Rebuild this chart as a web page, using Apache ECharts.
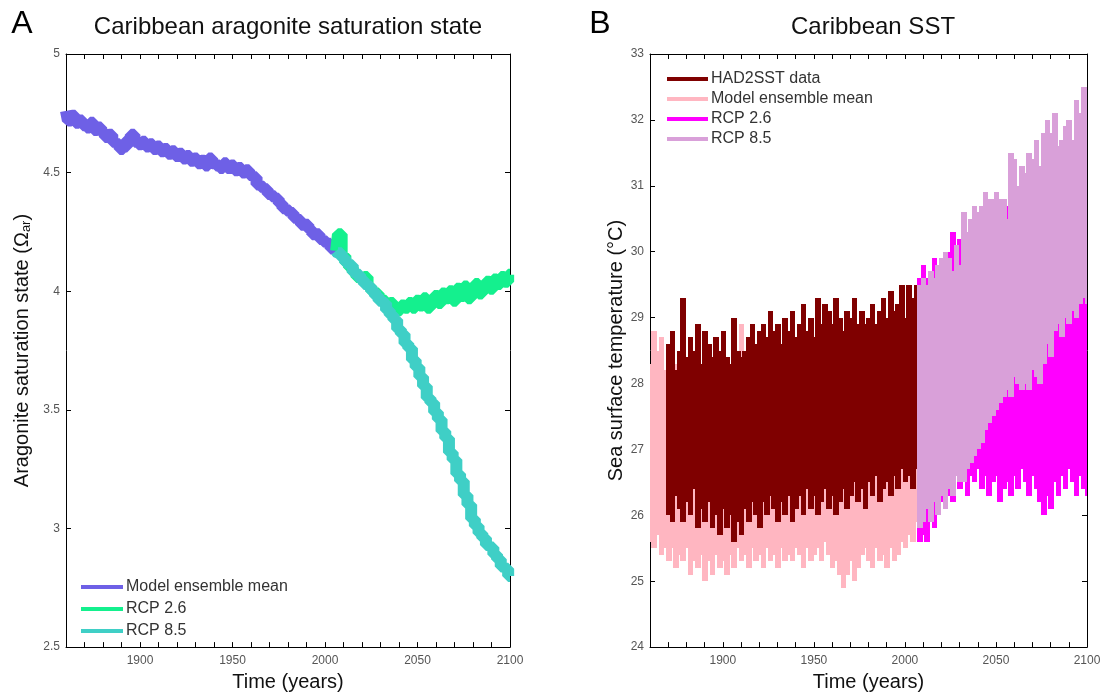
<!DOCTYPE html>
<html>
<head>
<meta charset="utf-8">
<script src="https://cdn.jsdelivr.net/npm/echarts@6/dist/echarts.min.js"></script>
<style>
html,body{margin:0;padding:0;background:#fff;}
#chart{width:1111px;height:697px;}
</style>
</head>
<body>
<div id="chart"></div>
<script>
// ---------- Panel A: aragonite saturation state (2-year steps) ----------
const meanStartA = 1860; // 1860..2006
const meanA = [4.76,4.72,4.74,4.71,4.72,4.70,4.69,4.71,4.68,4.69,4.67,4.65,4.66,4.63,4.62,4.60,4.61,4.64,4.66,4.63,
  4.62,4.63,4.61,4.62,4.60,4.61,4.59,4.60,4.58,4.59,4.57,4.58,4.56,4.57,4.55,4.56,4.54,4.55,4.53,4.56,
  4.54,4.53,4.52,4.54,4.52,4.53,4.51,4.52,4.50,4.51,4.49,4.48,4.45,4.44,4.43,4.41,4.40,4.39,4.37,4.35,
  4.34,4.33,4.31,4.30,4.28,4.28,4.26,4.24,4.24,4.22,4.21,4.20,4.18,4.17];
const rcpStartA = 2006; // 2006..2100
const rcp26A = [4.17,4.24,4.15,4.12,4.10,4.08,4.06,4.05,4.06,4.02,4.00,3.99,3.97,3.96,3.94,3.95,3.93,3.92,3.94,3.93,
  3.95,3.93,3.96,3.94,3.97,3.93,3.96,3.98,3.95,3.99,3.97,4.00,3.96,4.01,3.98,4.02,3.97,4.01,4.03,3.99,
  4.02,4.04,4.01,4.05,4.03,4.06,4.04,4.07];
const rcp85A = [4.17,4.16,4.14,4.12,4.11,4.08,4.07,4.05,4.03,4.02,4.00,3.98,3.96,3.95,3.92,3.90,3.88,3.84,3.82,3.78,
  3.76,3.71,3.68,3.64,3.60,3.55,3.53,3.49,3.46,3.41,3.38,3.32,3.29,3.23,3.20,3.14,3.10,3.04,3.01,2.98,
  2.96,2.93,2.92,2.89,2.87,2.84,2.83,2.80];

// ---------- Panel B: SST bands (min/max of seasonal cycle, 2-year steps) ----------
const pinkStart = 1860; // model ensemble mean 1860..2006
const pinkLo = [25.6,25.5,25.7,25.4,25.5,25.3,25.5,25.2,25.4,25.3,25.5,25.1,25.3,25.2,25.4,25.0,25.3,25.1,25.4,25.2,
  25.3,25.1,25.4,25.2,25.5,25.3,25.4,25.2,25.5,25.3,25.4,25.2,25.5,25.3,25.4,25.2,25.5,25.3,25.4,25.3,
  25.5,25.4,25.2,25.5,25.3,25.4,25.5,25.3,25.6,25.4,25.2,25.3,25.1,24.9,25.1,25.3,25.0,25.2,25.4,25.5,
  25.3,25.2,25.5,25.3,25.4,25.2,25.5,25.3,25.4,25.6,25.5,25.7,25.6,25.9];
const pinkHi = [28.3,28.8,28.5,28.7,28.2,28.4,28.1,28.3,28.0,28.2,28.1,28.2,28.0,28.3,28.1,28.2,28.0,28.1,28.3,28.0,
  28.2,28.1,28.0,28.3,28.2,28.9,28.1,28.2,28.0,28.3,28.2,28.4,28.1,28.3,28.2,28.4,28.2,28.3,28.1,28.4,
  28.3,28.5,28.2,28.4,28.3,28.5,28.3,28.4,28.6,28.3,28.5,28.4,28.6,28.3,28.5,28.4,28.6,28.5,28.3,28.6,
  28.5,28.7,28.4,28.6,28.5,28.7,28.6,28.8,28.5,28.7,28.8,28.6,28.9,28.7];
const hadStart = 1870; // HAD2SST data 1870..2008
const hadLo = [26.0,25.9,26.3,26.1,25.9,26.2,26.0,26.4,25.8,26.1,25.9,26.2,25.8,26.0,25.7,26.1,25.8,26.0,25.6,25.9,
  25.7,26.1,25.9,26.2,26.0,25.8,26.2,26.0,26.3,26.1,25.9,26.2,26.0,26.3,25.9,26.1,26.3,26.0,26.4,26.1,
  26.3,26.0,26.2,26.4,26.1,26.3,26.0,26.2,26.4,26.1,26.3,26.5,26.2,26.4,26.1,26.5,26.3,26.6,26.2,26.4,
  26.5,26.3,26.6,26.4,26.7,26.5,26.6,26.4,26.7,26.5];
const hadHi = [28.6,28.8,28.2,28.5,29.3,28.4,28.7,28.5,28.9,28.3,28.8,28.6,28.4,28.7,28.5,28.8,28.4,28.3,29.0,28.5,
  28.4,28.5,28.7,28.9,28.6,28.8,28.9,28.7,29.1,28.8,28.9,28.6,29.0,28.8,29.1,28.7,28.9,29.2,28.8,29.0,
  28.7,29.3,28.9,29.2,29.1,28.9,29.3,29.0,28.8,29.1,29.0,29.3,28.9,29.1,28.9,29.0,29.2,28.9,29.1,29.3,
  29.0,29.4,29.1,29.2,29.5,29.0,29.5,29.3,29.5,29.4];
const rcpStartB = 2008; // 2008..2100
const rcp26Lo = [25.6,25.7,25.6,25.9,25.8,26.0,26.2,26.1,26.3,26.2,26.6,26.4,26.5,26.3,26.6,26.5,26.7,26.4,26.6,26.3,
  26.5,26.6,26.2,26.4,26.5,26.3,26.6,26.4,26.7,26.5,26.3,26.6,26.4,26.2,26.0,26.3,26.1,26.5,26.3,26.6,
  26.4,26.7,26.5,26.3,26.6,26.4,26.3];
const rcp26Hi = [29.6,29.8,29.6,29.7,29.9,29.8,29.6,29.9,30.0,30.3,30.1,30.2,30.0,30.3,30.1,30.4,30.2,30.3,30.2,30.5,
  30.3,30.4,30.6,30.4,30.7,30.3,30.5,30.4,30.6,30.5,30.7,30.6,30.8,30.6,30.9,30.7,30.9,30.8,31.0,30.8,
  31.0,30.9,31.1,30.9,31.0,31.1,31.0];
const rcp85Lo = [25.8,25.9,26.1,25.9,26.2,26.0,26.3,26.1,26.4,26.3,26.6,26.5,26.5,26.7,26.8,26.9,27.0,27.1,27.3,27.4,
  27.5,27.6,27.7,27.8,27.9,27.8,28.1,28.0,27.9,28.0,27.9,28.2,28.1,28.0,28.3,28.6,28.4,28.8,28.9,28.7,
  29.0,28.9,29.1,29.0,29.2,29.3,29.2];
const rcp85Hi = [29.5,29.6,29.5,29.7,29.6,29.8,29.9,30.0,29.9,29.7,30.1,29.8,30.6,30.3,30.5,30.7,30.6,30.7,30.9,30.8,
  30.8,30.9,30.8,30.8,30.5,31.5,31.4,31.0,31.3,31.2,31.5,31.4,31.7,31.3,31.8,32.0,31.8,32.1,31.6,31.7,
  31.9,32.0,31.7,32.3,32.1,32.5,32.4];

const yTicksA = ['2.5','3','3.5','4','4.5','5'];
const yTicksB = ['24','25','26','27','28','29','30','31','32','33'];
const xTickLabels = ['1900','1950','2000','2050','2100'];

// ---------- helpers ----------
const FONT = 'Liberation Sans, Arial, Helvetica, sans-serif';
const STEP = 2;
function linePts(start, vals){ return vals.map((v,i)=>[start + i*STEP, v]); }
function bandPts(start, lo, hi){ return lo.map((v,i)=>[start + i*STEP, v, hi[i]]); }
function bandRender(params, api){
  const x = api.value(0), lo = api.value(1), hi = api.value(2);
  const p1 = api.coord([x - STEP/2, hi]);
  const p2 = api.coord([x + STEP/2, lo]);
  const cs = params.coordSys;
  const x0 = Math.floor(p1[0]);
  const x1 = Math.ceil(p2[0]) + 1;
  const y0 = Math.round(p1[1]);
  const y1 = Math.round(p2[1]);
  const shape = echarts.graphic.clipRectByRect(
    {x: x0, y: y0, width: x1 - x0, height: y1 - y0},
    {x: cs.x, y: cs.y, width: cs.width, height: cs.height});
  if (!shape) return null;
  return {type:'rect', shape: shape, style: {fill: api.visual('color'), stroke: null, lineWidth: 0}};
}

const C = {
  meanA: '#6E60E6', r26A: '#14F08E', r85A: '#3FCFC6',
  had: '#7F0000', pink: '#FFB6C1', r26B: '#FF00FF', r85B: '#D9A0D9'
};

function xAxes(grid){
  return [{
    gridIndex: grid, type: 'value', min: 1860, max: 2100, interval: 10, position: 'bottom',
    axisLine: {show: true, onZero: false, lineStyle: {color: '#000', width: 1}},
    axisTick: {show: true, inside: true, length: 5, lineStyle: {color: '#000'}},
    axisLabel: {color: '#555', fontSize: 12, fontFamily: FONT, margin: 8,
      formatter: v => xTickLabels.includes(String(v)) ? String(v) : ''},
    splitLine: {show: false},
    name: 'Time (years)', nameLocation: 'middle', nameGap: 24,
    nameTextStyle: {fontSize: 20, color: '#111', fontFamily: FONT}
  },{
    gridIndex: grid, type: 'value', min: 1860, max: 2100, interval: 10, position: 'top',
    axisLine: {show: true, onZero: false, lineStyle: {color: '#000', width: 1}},
    axisTick: {show: true, inside: true, length: 5, lineStyle: {color: '#000'}},
    axisLabel: {show: false}, splitLine: {show: false}
  }];
}
function yAxes(grid, min, max, ticks, name, nameGap, rich){
  return [{
    gridIndex: grid, type: 'value', min: min, max: max, interval: (max-min)/(ticks.length-1), position: 'left',
    axisLine: {show: true, onZero: false, lineStyle: {color: '#000', width: 1}},
    axisTick: {show: true, inside: true, length: 5, lineStyle: {color: '#000'}},
    axisLabel: {color: '#555', fontSize: 12, fontFamily: FONT, margin: 6,
      formatter: v => { const s = String(Math.round(v*10)/10); return ticks.includes(s) ? s : ''; }},
    splitLine: {show: false},
    name: name, nameLocation: 'middle', nameGap: nameGap, nameRotate: 90,
    nameTextStyle: Object.assign({fontSize: 20, color: '#111', fontFamily: FONT}, rich ? {rich: rich} : {})
  },{
    gridIndex: grid, type: 'value', min: min, max: max, interval: (max-min)/(ticks.length-1), position: 'right',
    axisLine: {show: true, onZero: false, lineStyle: {color: '#000', width: 1}},
    axisTick: {show: true, inside: true, length: 5, lineStyle: {color: '#000'}},
    axisLabel: {show: false}, splitLine: {show: false}
  }];
}

const chart = echarts.init(document.getElementById('chart'), null, {renderer: 'canvas'});
const lineSeries = (name, start, vals, color) => ({
  name: name, type: 'line', xAxisIndex: 0, yAxisIndex: 0, data: linePts(start, vals),
  showSymbol: false, step: 'middle', color: color,
  lineStyle: {width: 12, color: color}, itemStyle: {color: color},
  clip: true, silent: true, animation: false
});
const bandSeries = (name, start, lo, hi, color) => ({
  name: name, type: 'custom', xAxisIndex: 2, yAxisIndex: 2, data: bandPts(start, lo, hi),
  renderItem: bandRender, encode: {x: 0, y: [1, 2]}, itemStyle: {color: color}, color: color,
  silent: true, animation: false, clip: true
});

chart.setOption({
  animation: false,
  backgroundColor: '#fff',
  textStyle: {fontFamily: FONT},
  grid: [
    {left: 66, top: 54, width: 444, height: 595},
    {left: 650, top: 54, width: 437, height: 595}
  ],
  xAxis: [].concat(xAxes(0), xAxes(1)),
  yAxis: [].concat(
    yAxes(0, 2.5, 5, yTicksA, '{n|Aragonite saturation state (Ω}{s|ar}{n|)}', 33,
      {n: {fontSize: 20, color: '#111', fontFamily: FONT}, s: {fontSize: 13, color: '#111', fontFamily: FONT, verticalAlign: 'bottom', padding: [9, 0, 0, 0]}}),
    yAxes(1, 24, 33, yTicksB, 'Sea surface temperature (°C)', 22, null)
  ),
  legend: [{
    data: [{name: 'Model ensemble mean', itemStyle: {color: C.meanA}},
           {name: 'RCP 2.6', itemStyle: {color: C.r26A}},
           {name: 'RCP 8.5', itemStyle: {color: C.r85A}}],
    orient: 'vertical', left: 81, top: 577, icon: 'rect', itemWidth: 42, itemHeight: 4, itemGap: 2,
    selectedMode: false, padding: 0,
    textStyle: {fontSize: 16, color: '#333', fontFamily: FONT, lineHeight: 20, padding: [0,0,0,-2]}
  },{
    data: [{name: 'HAD2SST data [B]', itemStyle: {color: C.had}},
           {name: 'Model ensemble mean [B]', itemStyle: {color: C.pink}},
           {name: 'RCP 2.6 [B]', itemStyle: {color: C.r26B}},
           {name: 'RCP 8.5 [B]', itemStyle: {color: C.r85B}}],
    formatter: n => n.replace(' [B]', ''),
    orient: 'vertical', left: 667, top: 69, icon: 'rect', itemWidth: 41, itemHeight: 4, itemGap: 0,
    selectedMode: false, padding: 0,
    textStyle: {fontSize: 16, color: '#333', fontFamily: FONT, lineHeight: 20, padding: [0,0,0,-2]}
  }],
  graphic: [
    {type: 'text', x: 22, y: 24, style: {text: 'A', font: '32px ' + FONT, fill: '#000', textAlign: 'center', textVerticalAlign: 'middle'}},
    {type: 'text', x: 288, y: 27, style: {text: 'Caribbean aragonite saturation state', font: '24px ' + FONT, fill: '#111', textAlign: 'center', textVerticalAlign: 'middle'}},
    {type: 'text', x: 600, y: 24, style: {text: 'B', font: '32px ' + FONT, fill: '#000', textAlign: 'center', textVerticalAlign: 'middle'}},
    {type: 'text', x: 873, y: 27, style: {text: 'Caribbean SST', font: '24px ' + FONT, fill: '#111', textAlign: 'center', textVerticalAlign: 'middle'}}
  ],
  series: [
    lineSeries('Model ensemble mean', meanStartA, meanA, C.meanA),
    lineSeries('RCP 2.6', rcpStartA, rcp26A, C.r26A),
    lineSeries('RCP 8.5', rcpStartA, rcp85A, C.r85A),
    bandSeries('Model ensemble mean [B]', pinkStart, pinkLo, pinkHi, C.pink),
    bandSeries('HAD2SST data [B]', hadStart, hadLo, hadHi, C.had),
    bandSeries('RCP 2.6 [B]', rcpStartB, rcp26Lo, rcp26Hi, C.r26B),
    bandSeries('RCP 8.5 [B]', rcpStartB, rcp85Lo, rcp85Hi, C.r85B)
  ]
});
</script>
</body>
</html>
